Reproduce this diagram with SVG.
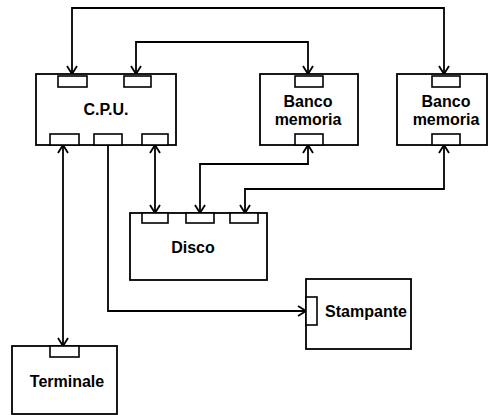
<svg xmlns="http://www.w3.org/2000/svg" width="488" height="415" viewBox="0 0 488 415">
<defs>
<marker id="arr" viewBox="0 0 12 12" refX="10" refY="6" markerWidth="12" markerHeight="12" markerUnits="userSpaceOnUse" orient="auto-start-reverse">
<path d="M2,1 L10,6 L2,11" fill="none" stroke="#000" stroke-width="1.8"/>
</marker>
</defs>
<style>
.box{fill:#fff;stroke:#000;stroke-width:1.8}
.port{fill:#fff;stroke:#000;stroke-width:1.6}
.ln{fill:none;stroke:#000;stroke-width:1.8}
.t{font-family:"Liberation Sans",Arial,sans-serif;font-weight:bold;font-size:16px;fill:#000;text-anchor:middle}
</style>
<rect width="488" height="415" fill="#fff"/>
<g id="connectors">
<path class="ln" d="M444,74 V8 H72 V74" marker-start="url(#arr)" marker-end="url(#arr)"/>
<path class="ln" d="M308,74 V42 H136 V74" marker-start="url(#arr)" marker-end="url(#arr)"/>
<path class="ln" d="M308,145 V164 H200 V213" marker-start="url(#arr)" marker-end="url(#arr)"/>
<path class="ln" d="M444,145 V189 H245 V213" marker-start="url(#arr)" marker-end="url(#arr)"/>
<path class="ln" d="M155,145 V213" marker-start="url(#arr)" marker-end="url(#arr)"/>
<path class="ln" d="M63,145 V346" marker-start="url(#arr)" marker-end="url(#arr)"/>
<path class="ln" d="M108,145 V311 H306" marker-end="url(#arr)"/>
</g>
<g id="cpu">
<rect class="box" x="36" y="74" width="140" height="71"/>
<rect class="port" x="58" y="76" width="29" height="11"/>
<rect class="port" x="124" y="76" width="27" height="11"/>
<rect class="port" x="50" y="134" width="29" height="11"/>
<rect class="port" x="94" y="134" width="28" height="11"/>
<rect class="port" x="142" y="134" width="26" height="11"/>
<text class="t" x="106" y="115">C.P.U.</text>
</g>
<g id="banco1">
<rect class="box" x="260" y="74" width="98" height="71"/>
<rect class="port" x="295" y="76" width="28" height="11"/>
<rect class="port" x="295" y="134" width="28" height="11"/>
<text class="t" x="308" y="107">Banco</text>
<text class="t" x="308" y="125">memoria</text>
</g>
<g id="banco2">
<rect class="box" x="397" y="74" width="90" height="71"/>
<rect class="port" x="432" y="76" width="28" height="11"/>
<rect class="port" x="432" y="134" width="28" height="11"/>
<text class="t" x="446" y="107">Banco</text>
<text class="t" x="446" y="125">memoria</text>
</g>
<g id="disco">
<rect class="box" x="130" y="213" width="137" height="67"/>
<rect class="port" x="142" y="213" width="26" height="10"/>
<rect class="port" x="186" y="213" width="28" height="10"/>
<rect class="port" x="230" y="213" width="28" height="10"/>
<text class="t" x="193" y="253">Disco</text>
</g>
<g id="stampante">
<rect class="box" x="306" y="279" width="105" height="70"/>
<rect class="port" x="306" y="297" width="11" height="28"/>
<text class="t" x="366" y="317">Stampante</text>
</g>
<g id="terminale">
<rect class="box" x="12" y="346" width="105" height="68"/>
<rect class="port" x="50" y="346" width="29" height="11"/>
<text class="t" x="67" y="387">Terminale</text>
</g>
</svg>
